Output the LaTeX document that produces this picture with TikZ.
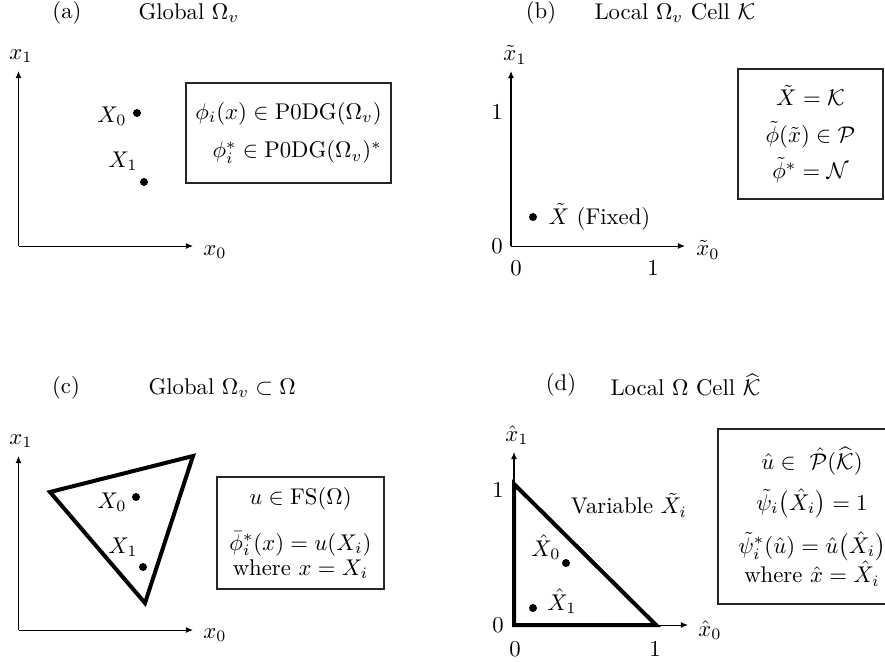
\documentclass[tikz,border=0pt]{standalone}
\usepackage{amsmath}
\usepackage{tikz}
\usetikzlibrary{arrows.meta}
\tikzset{
    axisline/.style={
        -{Latex[length=3.1pt,width=2.6pt]},
        line width=0.45pt
    },
    cellbox/.style={
        rectangle,
        draw=black!85,
        line width=0.66pt,
        align=center,
        inner sep=0pt
    },
    celledge/.style={
        line width=1.76pt,
        line join=miter
    },
    ptdot/.style={
        circle,
        fill=black,
        inner sep=0pt,
        minimum size=3.5pt
    }
}

\begin{document}
\begin{tikzpicture}[x=0.44pt, y=-0.44pt]
    \useasboundingbox (0,0) rectangle (885,661);
    \clip (0,0) rectangle (885,661);

    % (a) global
    \node (ta) at (67,13) {(a)};
    \node[anchor=west] (tga) at (130.5,13) {Global $\Omega_v$};
    \coordinate (oa) at (18.5,246);
    \coordinate (ya) at (18.5,71);
    \coordinate (xa) at (193,246);
    \draw[axisline] (oa) -- (ya);
    \draw[axisline] (oa) -- (xa);
    \node (la1) at (21,56) {$x_1$};
    \node (la0) at (215,252) {$x_0$};
    \node[ptdot] (pa0) at (137,113) {};
    \node[ptdot] (pa1) at (144,182) {};
    \node (lpa0) at (112,116) {$X_0$};
    \node (lpa1) at (123,161) {$X_1$};
    \node[cellbox, align=right, minimum width=90.2pt, minimum height=44pt] (ba) at (288.5,133)
        {$\phi_i(x) \in \mathrm{P0DG}(\Omega_v)$\\[5pt]
         $\phi_i^* \in \mathrm{P0DG}(\Omega_v)^*$};

    % (b) local
    \node (tb) at (541,13) {(b)};
    \node[anchor=west] (tlb) at (586.5,13) {Local $\Omega_v$ Cell $\mathcal{K}$};
    \coordinate (ob) at (511,246);
    \coordinate (yb) at (511,71);
    \coordinate (xb) at (685,246);
    \draw[axisline] (ob) -- (yb);
    \draw[axisline] (ob) -- (xb);
    \node (lb1) at (515,55) {$\tilde{x}_1$};
    \node (lb0) at (708,250) {$\tilde{x}_0$};
    \node (b0y) at (497,246) {0};
    \node (b1y) at (497,112) {1};
    \node (b0x) at (516,268) {0};
    \node (b1x) at (653,268) {1};
    \node[ptdot] (pb) at (533,217) {};
    \node[anchor=west] (lpb) at (540.5,217) {$\tilde{X}$ (Fixed)};
    \node[cellbox, minimum width=63.8pt, minimum height=57.2pt] (bb) at (810.5,134)
        {$\tilde{X} = \mathcal{K}$\\[4pt]
         $\tilde{\phi}(\tilde{x}) \in \mathcal{P}$\\[4pt]
         $\tilde{\phi}^* = \mathcal{N}$};

    % (c) global in omega
    \node (tc) at (66,388) {(c)};
    \node[anchor=west] (tgc) at (140.5,388) {Global $\Omega_v \subset \Omega$};
    \coordinate (oc) at (18.5,630);
    \coordinate (yc) at (18.5,456);
    \coordinate (xc) at (193,630);
    \draw[axisline] (oc) -- (yc);
    \draw[axisline] (oc) -- (xc);
    \node (lc1) at (21,441) {$x_1$};
    \node (lc0) at (215,635) {$x_0$};
    \coordinate (c1) at (50,492);
    \coordinate (c2) at (193,456);
    \coordinate (c3) at (145,603);
    \draw[celledge] (c1) -- (c2) -- (c3) -- cycle;
    \node[ptdot] (pc0) at (136,497) {};
    \node[ptdot] (pc1) at (143,567) {};
    \node (lpc0) at (112,502) {$X_0$};
    \node (lpc1) at (123,547) {$X_1$};
    \node[cellbox, minimum width=73.5pt, minimum height=49.3pt] (bc) at (300.5,533)
        {$u \in \mathrm{FS}(\Omega)$\\[8pt]
         $\bar{\phi}_i^*(x) = u(X_i)$\\[-1pt]
         where $x = X_i$};

    % (d) reference cell
    \node (td) at (561,385) {(d)};
    \node[anchor=west] (tld) at (602.5,385) {Local $\Omega$ Cell $\widehat{\mathcal{K}}$};
    \coordinate (od) at (514,625);
    \coordinate (yd) at (514,452);
    \coordinate (xd) at (688,625);
    \draw[axisline] (od) -- (yd);
    \draw[axisline] (od) -- (xd);
    \node (ld1) at (517,435) {$\hat{x}_1$};
    \node (ld0) at (710,630) {$\hat{x}_0$};
    \node (d0y) at (498,625) {0};
    \node (d1y) at (498,490) {1};
    \node (d0x) at (515,649) {0};
    \node (d1x) at (655,649) {1};
    \coordinate (dA) at (514,484);
    \coordinate (dB) at (656,625);
    \draw[celledge] (od) -- (dA) -- (dB) -- cycle;
    \node (var) at (629,505) {Variable $\tilde{X}_i$};
    \node[ptdot] (pd0) at (566,563) {};
    \node[ptdot] (pd1) at (533,608) {};
    \node (lpd0) at (546,547) {$\hat{X}_0$};
    \node (lpd1) at (562,601) {$\hat{X}_1$};
    \node[cellbox, minimum width=88pt, minimum height=77pt] (bd) at (818,516.5) {};
    \node[align=center] (bdt) at (812,516.5)
        {$\hat{u} \in\ \hat{\mathcal{P}}(\widehat{\mathcal{K}})$\\[6pt]
         $\tilde{\psi}_i\bigl(\hat{X}_i\bigr) = 1$\\[5pt]
         $\tilde{\psi}_i^*(\hat{u}) = \hat{u}\bigl(\hat{X}_i\bigr)$\\[-1pt]
         where $\hat{x} = \hat{X}_i$};
\end{tikzpicture}
\end{document}
